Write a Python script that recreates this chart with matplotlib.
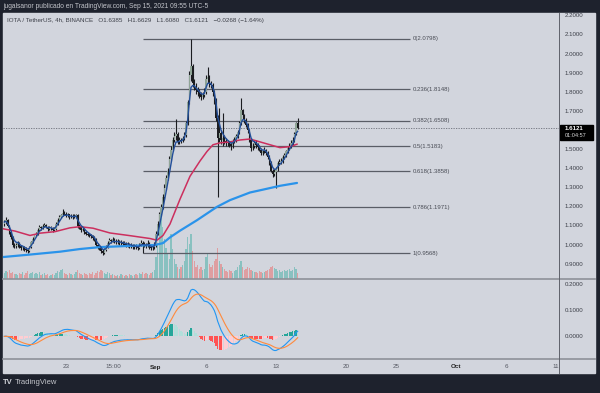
import numpy as np
import pandas as pd
import matplotlib
matplotlib.use("Agg")
import matplotlib.pyplot as plt
from matplotlib.patches import Rectangle
from matplotlib.lines import Line2D
from matplotlib.transforms import blended_transform_factory

plt.rcParams["font.family"] = ["Liberation Sans", "DejaVu Sans"]

# ---- data (IOTA/USDT 4h) ----
first_open = 1.11
last_bar = "2021-09-15 04:00"

close = [
    1.12, 1.13, 1.10, 1.07, 1.04, 1.00, 0.995,
    1.00, 1.01, 0.995, 0.985, 0.99, 0.98,
    0.975, 0.97, 0.99, 1.015, 1.03, 1.05,
    1.06, 1.08, 1.095, 1.09, 1.10, 1.105,
    1.095, 1.085, 1.09, 1.09, 1.08, 1.085,
    1.11, 1.13, 1.145, 1.155, 1.17, 1.165,
    1.155, 1.16, 1.145, 1.15, 1.145, 1.15,
    1.155, 1.10, 1.095, 1.08, 1.085, 1.07,
    1.06, 1.055, 1.05, 1.045, 1.035, 1.03,
    1.00, 0.99, 0.985, 0.97, 0.96, 0.975,
    0.99, 1.01, 1.025, 1.02, 1.03, 1.02,
    1.015, 1.02, 1.01, 1.015, 1.005, 1.01,
    1.00, 1.005, 0.995, 1.00, 0.99, 0.995,
    0.99, 0.985, 1.00, 1.01, 1.005, 1.00,
    0.995, 1.01, 0.99, 0.985, 0.99, 1.00,
    1.06, 1.11, 1.16, 1.20, 1.25, 1.30,
    1.35, 1.39, 1.45, 1.50, 1.55, 1.57,
    1.58, 1.54, 1.55, 1.545, 1.56, 1.575,
    1.64, 1.75, 1.89, 1.94, 1.85, 1.83,
    1.81, 1.80, 1.79, 1.775, 1.785, 1.80,
    1.87, 1.88, 1.85, 1.84, 1.80, 1.76,
    1.665, 1.56, 1.585, 1.55, 1.56, 1.545,
    1.54, 1.535, 1.53, 1.52, 1.54, 1.55,
    1.57, 1.59, 1.64, 1.705, 1.68, 1.655,
    1.63, 1.60, 1.55, 1.51, 1.52, 1.535,
    1.525, 1.515, 1.50, 1.48, 1.49, 1.50,
    1.48, 1.46, 1.43, 1.39, 1.37, 1.38,
    1.40, 1.43, 1.435, 1.44, 1.46, 1.47,
    1.49, 1.51, 1.52, 1.535, 1.55, 1.58,
    1.6385, 1.6121,
]

high = [
    1.13, 1.145, 1.135, 1.105, 1.075, 1.045, 1.01,
    1.01, 1.02, 1.015, 1.00, 0.995, 0.995,
    0.99, 0.98, 0.995, 1.02, 1.04, 1.055,
    1.07, 1.09, 1.105, 1.10, 1.11, 1.115,
    1.11, 1.10, 1.10, 1.10, 1.095, 1.095,
    1.12, 1.14, 1.155, 1.165, 1.19, 1.18,
    1.175, 1.17, 1.165, 1.16, 1.16, 1.16,
    1.165, 1.16, 1.11, 1.10, 1.095, 1.09,
    1.075, 1.07, 1.065, 1.06, 1.05, 1.045,
    1.035, 1.01, 1.00, 0.99, 0.98, 0.985,
    1.00, 1.02, 1.035, 1.03, 1.04, 1.035,
    1.03, 1.03, 1.025, 1.025, 1.02, 1.02,
    1.015, 1.015, 1.01, 1.01, 1.005, 1.005,
    1.005, 1.00, 1.01, 1.025, 1.02, 1.015,
    1.01, 1.025, 1.015, 1.00, 1.00, 1.015,
    1.075, 1.125, 1.175, 1.215, 1.265, 1.32,
    1.365, 1.405, 1.465, 1.52, 1.565, 1.59,
    1.66, 1.59, 1.565, 1.56, 1.57, 1.59,
    1.65, 1.76, 1.91, 2.0798, 1.95, 1.87,
    1.85, 1.83, 1.815, 1.80, 1.80, 1.82,
    1.89, 1.93, 1.89, 1.86, 1.85, 1.81,
    1.77, 1.68, 1.72, 1.60, 1.69, 1.575,
    1.56, 1.55, 1.545, 1.54, 1.555, 1.565,
    1.58, 1.60, 1.65, 1.77, 1.71, 1.685,
    1.665, 1.64, 1.61, 1.56, 1.535, 1.55,
    1.55, 1.535, 1.525, 1.51, 1.50, 1.515,
    1.505, 1.49, 1.47, 1.44, 1.40, 1.40,
    1.41, 1.44, 1.45, 1.455, 1.47, 1.48,
    1.50, 1.52, 1.535, 1.55, 1.565, 1.59,
    1.645, 1.6629,
]

low = [
    1.10, 1.11, 1.095, 1.06, 1.03, 0.99, 0.985,
    0.985, 0.99, 0.985, 0.975, 0.975, 0.97,
    0.965, 0.96, 0.965, 0.985, 1.01, 1.025,
    1.045, 1.055, 1.075, 1.08, 1.085, 1.095,
    1.09, 1.075, 1.08, 1.08, 1.07, 1.075,
    1.08, 1.105, 1.125, 1.14, 1.15, 1.155,
    1.145, 1.145, 1.135, 1.14, 1.135, 1.14,
    1.14, 1.09, 1.085, 1.07, 1.075, 1.06,
    1.05, 1.045, 1.04, 1.035, 1.025, 1.02,
    0.995, 0.98, 0.975, 0.96, 0.95, 0.955,
    0.97, 0.985, 1.005, 1.01, 1.015, 1.01,
    1.005, 1.005, 1.00, 1.00, 0.995, 0.995,
    0.99, 0.99, 0.985, 0.985, 0.98, 0.98,
    0.98, 0.975, 0.98, 0.995, 0.9568, 0.99,
    0.985, 0.99, 0.98, 0.975, 0.975, 0.98,
    0.99, 1.05, 1.10, 1.15, 1.19, 1.24,
    1.29, 1.34, 1.38, 1.44, 1.49, 1.54,
    1.55, 1.53, 1.53, 1.535, 1.54, 1.55,
    1.565, 1.63, 1.74, 1.86, 1.83, 1.81,
    1.79, 1.78, 1.77, 1.76, 1.765, 1.775,
    1.79, 1.85, 1.83, 1.82, 1.78, 1.74,
    1.65, 1.25, 1.54, 1.53, 1.52, 1.53,
    1.52, 1.52, 1.515, 1.50, 1.51, 1.535,
    1.54, 1.56, 1.58, 1.63, 1.66, 1.64,
    1.62, 1.585, 1.54, 1.49, 1.50, 1.51,
    1.51, 1.50, 1.49, 1.47, 1.47, 1.48,
    1.47, 1.45, 1.42, 1.38, 1.355, 1.36,
    1.30, 1.39, 1.42, 1.425, 1.43, 1.45,
    1.46, 1.48, 1.50, 1.51, 1.525, 1.54,
    1.575, 1.6080,
]

# volume in millions
vol_m = [
    0.6, 0.8, 0.7, 0.9, 0.6, 0.7, 0.5,
    0.5, 0.4, 0.6, 0.5, 0.7, 0.4,
    0.6, 0.8, 0.5, 0.6, 0.7, 0.5,
    0.6, 0.5, 0.7, 0.4, 0.5, 0.6,
    0.4, 0.5, 0.3, 0.4, 0.5, 0.4,
    0.6, 0.8, 0.7, 0.9, 1.0, 0.6,
    0.5, 0.4, 0.6, 0.5, 0.4, 0.5,
    0.7, 0.9, 0.6, 0.5, 0.4, 0.6,
    0.5, 0.4, 0.6, 0.5, 0.7, 0.4,
    0.6, 0.8, 0.7, 0.9, 0.8, 0.6,
    0.5, 0.7, 0.6, 0.4, 0.5, 0.4,
    0.3, 0.4, 0.3, 0.5, 0.4, 0.3,
    0.4, 0.3, 0.5, 0.4, 0.3, 0.4,
    0.5, 0.4, 0.6, 0.5, 0.7, 0.5,
    0.6, 0.5, 0.4, 0.6, 0.7, 0.9,
    2.2, 3.6, 5.9, 6.5, 5.2, 4.0,
    3.1, 2.5, 2.0, 4.5, 3.0, 2.0,
    1.5, 1.2, 1.0, 1.2, 1.4, 1.8,
    3.0, 4.2, 3.5, 4.5, 2.8, 1.8,
    1.2, 1.4, 1.0, 1.2, 0.9, 1.0,
    2.2, 2.5, 1.5, 1.2, 1.4, 1.8,
    2.0, 3.1, 1.8, 1.5, 1.2, 1.0,
    0.8, 0.7, 0.9, 0.8, 0.6, 0.8,
    0.9, 1.2, 1.4, 1.8, 1.2, 0.9,
    1.0, 1.2, 1.1, 0.9, 0.8, 0.7,
    0.7, 0.6, 0.8, 0.7, 0.6, 0.7,
    0.8, 0.9, 1.0, 1.2, 1.3, 1.1,
    1.0, 0.8, 0.9, 0.7, 0.8, 0.9,
    0.8, 0.9, 1.0, 0.8, 0.9, 1.2,
    1.0, 0.6,
]

# moving averages read as points (days from Sep 1)
red_ma_days = [-15.3, -14.1, -12.6, -11.6, -10.1, -8.6, -7.6, -6.3, -4.6, -2.6, -0.6, 0.1,
               0.7, 1.4, 2.4, 3.4, 4.4, 5.1, 5.7, 6.4, 7.4, 8.4, 9.4, 10.4, 11.4, 12.4, 13.4, 14.1]
red_ma = [1.085, 1.073, 1.05, 1.062, 1.07, 1.09, 1.096, 1.088, 1.063, 1.049, 1.034, 1.025,
          1.05, 1.11, 1.24, 1.36, 1.44, 1.49, 1.525, 1.535, 1.54, 1.55, 1.555, 1.54, 1.525, 1.51, 1.515, 1.528]
blue_ma_days = [-15.3, -12.6, -9.6, -7.6, -5.6, -2.3, -0.1, 0.7, 1.4, 2.4, 4.1, 6.1, 7.4, 9.4, 10.7, 12.4, 14.1]
blue_ma = [0.937, 0.950, 0.965, 0.979, 0.989, 0.996, 1.0, 1.01, 1.04, 1.075, 1.13, 1.20, 1.235, 1.275, 1.29, 1.31, 1.325]

fib_high, fib_low = 2.0798, 0.9568
fib_levels = [0, 0.236, 0.382, 0.5, 0.618, 0.786, 1]
fib_start, fib_end = -1.3, 25.4

price_ticks = [2.2, 2.1, 2.0, 1.9, 1.8, 1.7, 1.5, 1.4, 1.3, 1.2, 1.1, 1.0, 0.9]
macd_ticks = [0.2, 0.1, 0.0]
time_ticks = ["2021-08-23", "2021-08-27 17:00", "2021-09-01", "2021-09-06", "2021-09-13",
              "2021-09-20", "2021-09-25", "2021-10-01", "2021-10-06", "2021-10-11"]
time_labels = ["23", "15:00", "Sep", "6", "13", "20", "25", "Oct", "6", "11"]

# ---- derived ----
t0 = pd.Timestamp("2021-09-01")
times = pd.date_range(end=last_bar, periods=len(close), freq="4h")
t = np.asarray((times - t0) / pd.Timedelta(days=1))
c = np.array(close)
o = np.array([first_open] + close[:-1])
hi = np.array(high)
lo = np.array(low)
up = c >= o

s = pd.Series(close)
ema_fast = s.ewm(span=4, adjust=False).mean()
macd = s.ewm(span=12, adjust=False).mean() - s.ewm(span=26, adjust=False).mean()
signal = macd.ewm(span=9, adjust=False).mean()
hist = (macd - signal).to_numpy()

# ---- figure ----
W, H = 600, 393
DARK = "#1e222d"
PANEL = "#d2d5dd"
TXT = "#3c3f48"


def fx(x):
    return x / W


def fy(y):
    return 1 - y / H


fig = plt.figure(figsize=(6, 3.93), dpi=100, facecolor=DARK)
fig.patches.append(Rectangle((fx(3), fy(373)), (595 - 3) / W, (373 - 13) / H,
                             transform=fig.transFigure, color=PANEL, zorder=-5))

xlim = (-15.3, 40.3)
ax = fig.add_axes([fx(3), fy(279), (559 - 3) / W, (279 - 13) / H])
axv = ax.twinx()
axm = fig.add_axes([fx(3), fy(359), (559 - 3) / W, (359 - 279) / H])
for a in (ax, axv, axm):
    a.set_facecolor("none")
    a.set_xlim(*xlim)
    for sp in a.spines.values():
        sp.set_visible(False)
    a.set_xticks([])
    a.set_yticks([])
axv.set_zorder(1)
ax.set_zorder(2)
axm.set_zorder(1)
ax.patch.set_visible(False)
ax.set_ylim(0.822, 2.215)
axm.set_ylim(-0.088, 0.223)

# volume
axv.set_ylim(0, 26.6)
vcol = np.where(up, "#26a69a", "#ef5350")
axv.bar(t, vol_m, width=0.13, color=vcol, alpha=0.42, lw=0)

# fib retracement
fib_prices = [fib_high - lv * (fib_high - fib_low) for lv in fib_levels]
ax.hlines(fib_prices, fib_start, fib_end, color="#5a5d66", lw=0.9, zorder=2)
for lv, p in zip(fib_levels, fib_prices):
    ax.text(fib_end + 0.25, p, f"{lv:g}({p:.4f})", fontsize=4.3, color="#4a4d56",
            va="center", ha="left")

# current price line
ax.axhline(c[-1], color="#6b6e78", lw=0.6, ls=(0, (1.5, 1.5)), zorder=2)

# candles
ax.vlines(t, lo, hi, color="#1b1c20", lw=0.8, zorder=3)
ax.bar(t[up], np.maximum(c - o, 0.004)[up], bottom=o[up], width=0.14,
       color="#8fa496", lw=0, zorder=4)
ax.bar(t[~up], np.maximum(o - c, 0.004)[~up], bottom=c[~up], width=0.14,
       color="#1b1c20", lw=0, zorder=4)

# moving averages
ax.plot(blue_ma_days, blue_ma, color="#2a93ea", lw=1.6, zorder=5, solid_capstyle="round")
ax.plot(red_ma_days, red_ma, color="#cc2f5e", lw=1.1, zorder=5)
ax.plot(t, ema_fast, color="#234f9a", lw=1.0, zorder=5)

# macd
hcol = []
for i, h in enumerate(hist):
    prev = hist[i - 1] if i else 0
    if h >= 0:
        hcol.append("#26a69a" if h >= prev else "#b2dfdb")
    else:
        hcol.append("#ff5252" if h < prev else "#ffcdd2")
axm.bar(t, hist, width=0.13, color=hcol, lw=0)
axm.plot(t, macd, color="#2196f3", lw=0.8)
axm.plot(t, signal, color="#ff8a3d", lw=0.8)

# right price scale
btr = blended_transform_factory(ax.transAxes, ax.transData)
for p in price_ticks:
    ax.text(1.0108, p, f"{p:.4f}", transform=btr, fontsize=4.4, color=TXT,
            va="center", ha="left", clip_on=False)
ax.add_patch(Rectangle((1.0018, c[-1] - 0.063), 33 / 556, 0.079, transform=btr,
                       color="black", clip_on=False, zorder=10))
ax.text(1.0108, c[-1] - 0.002, f"{c[-1]:.4f}", transform=btr, fontsize=4.4,
        color="white", fontweight="bold", va="center", ha="left", clip_on=False, zorder=11)
ax.text(1.0108, c[-1] - 0.036, "01:04:57", transform=btr, fontsize=4.0,
        color="#d8d8d8", va="center", ha="left", clip_on=False, zorder=11)

bmr = blended_transform_factory(axm.transAxes, axm.transData)
for p in macd_ticks:
    axm.text(1.0108, p, f"{p:.4f}", transform=bmr, fontsize=4.4, color=TXT,
             va="center", ha="left", clip_on=False)

# time scale
btx = blended_transform_factory(axm.transData, axm.transAxes)
for d, lab in zip(time_ticks, time_labels):
    x = (pd.Timestamp(d) - t0) / pd.Timedelta(days=1)
    bold = lab in ("Sep", "Oct")
    axm.text(x, -0.1, lab, transform=btx, fontsize=4.5, color="#222" if bold else "#555862",
             fontweight="bold" if bold else "normal", ha="center", va="center", clip_on=False)

# pane separators
sep = dict(transform=fig.transFigure, zorder=20)
fig.add_artist(Line2D([fx(3), fx(595)], [fy(279)] * 2, color="#8e9199", lw=1.2, **sep))
fig.add_artist(Line2D([fx(3), fx(595)], [fy(359)] * 2, color="#8e9199", lw=1.2, **sep))
fig.add_artist(Line2D([fx(559)] * 2, [fy(13), fy(373)], color="#5f626b", lw=0.7, **sep))

# header texts
fig.text(fx(3), fy(6.5), "jugalsanor publicado en TradingView.com, Sep 15, 2021 09:55 UTC-5",
         fontsize=4.8, color="#c3c5cb", va="center", ha="left")
fig.text(fx(7), fy(20.5),
         "IOTA / TetherUS, 4h, BINANCE   O1.6385   H1.6629   L1.6080   C1.6121   \u22120.0268 (\u22121.64%)",
         fontsize=4.5, color=TXT, va="center", ha="left")
fig.text(fx(3), fy(383), "TV", fontsize=5.5, color="#d0d2d8", fontweight="bold",
         va="center", ha="left")
fig.text(fx(15), fy(383), "TradingView", fontsize=5.5, color="#c3c5cb", va="center", ha="left")

fig.savefig("out.png", dpi=100, facecolor=DARK)
